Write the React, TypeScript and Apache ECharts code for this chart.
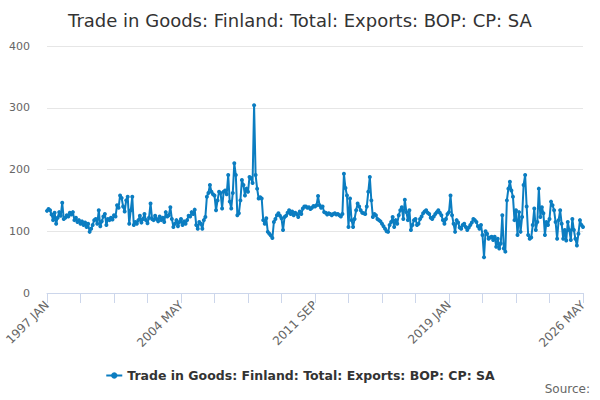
import { useEffect, useRef } from 'react';
import * as echarts from 'echarts';

const MONTHS = ['JAN', 'FEB', 'MAR', 'APR', 'MAY', 'JUN', 'JUL', 'AUG', 'SEP', 'OCT', 'NOV', 'DEC'];
const FIRST_YEAR = 1997;
const POINT_COUNT = 353; // 1997 JAN .. 2026 MAY

// monthly values, grouped by period
const values1997to2003 = [
  133, 136, 134, 127, 118, 130, 112, 122, 131, 125, 146, 120,
  122, 126, 124, 130, 127, 131, 118, 122, 115, 118, 112, 116,
  110, 114, 107, 112, 99, 104, 110, 118, 120, 112, 134, 108,
  116, 124, 128, 110, 120, 118, 122, 119, 126, 124, 142, 138,
  158, 154, 140, 132, 150, 156, 112, 134, 156, 110, 115, 112,
  118, 125, 114, 120, 128, 118, 113, 122, 145, 120, 118, 125,
  120, 116, 124, 118, 122, 115, 131, 124, 126, 139, 120, 107,
];
const values2004to2010 = [
  112, 118, 108, 115, 120, 110, 116, 112, 118, 125, 124, 131,
  128, 135, 110, 104, 115, 112, 104, 118, 123, 156, 162, 175,
  164, 160, 158, 134, 150, 164, 162, 137, 164, 166, 160, 191,
  148, 137, 162, 210, 191, 126, 129, 150, 183, 175, 158, 169,
  164, 188, 186, 178, 304, 191, 169, 153, 155, 153, 118, 112,
  121, 99, 96, 93, 89, 115, 120, 126, 129, 125, 121, 102,
  123, 125, 130, 134, 128, 132, 126, 130, 128, 123, 132, 128,
];
const values2011to2017 = [
  137, 140, 140, 138, 139, 136, 138, 141, 140, 142, 157, 142,
  138, 140, 131, 130, 127, 129, 128, 126, 128, 129, 127, 128,
  126, 124, 128, 193, 170, 158, 107, 153, 118, 107, 120, 134,
  145, 140, 134, 130, 129, 128, 140, 164, 188, 150, 123, 128,
  126, 120, 118, 116, 112, 108, 104, 100, 99, 110, 115, 123,
  107, 118, 112, 126, 134, 139, 120, 151, 131, 118, 134, 102,
  110, 118, 120, 110, 112, 120, 124, 129, 132, 134, 130, 128,
];
const values2018to2026 = [
  122, 120, 124, 128, 131, 134, 130, 126, 118, 112, 120, 128,
  131, 158, 126, 112, 99, 118, 114, 106, 104, 110, 112, 107,
  102, 106, 110, 114, 120, 118, 115, 108, 104, 110, 94, 58,
  100, 96, 88, 90, 91, 86, 91, 75, 88, 72, 80, 126,
  72, 67, 150, 169, 180, 166, 156, 118, 134, 94, 131, 99,
  123, 175, 191, 140, 94, 88, 90, 110, 137, 102, 115, 169,
  123, 139, 129, 94, 115, 110, 120, 148, 142, 134, 115, 88,
  118, 134, 112, 88, 102, 85, 115, 102, 86, 120, 102, 88,
  77, 96, 118, 110, 107,
];

const exportsValues = [...values1997to2003, ...values2004to2010, ...values2011to2017, ...values2018to2026];

const categories: string[] = [];
for (let i = 0; i < POINT_COUNT; i++) {
  categories.push(`${FIRST_YEAR + Math.floor(i / 12)} ${MONTHS[i % 12]}`);
}

const SERIES_NAME = 'Trade in Goods: Finland: Total: Exports: BOP: CP: SA';
const FONT = "'DejaVu Sans', sans-serif";
const LINE_COLOR = '#0b7dc1';

export default function App() {
  const ref = useRef<HTMLDivElement>(null);

  useEffect(() => {
    document.body.style.margin = '0';
    if (!ref.current) return;
    const chart = echarts.init(ref.current, null, { renderer: 'svg' });
    chart.setOption({
      animation: false,
      backgroundColor: '#fff',
      textStyle: { fontFamily: FONT },
      title: {
        text: SERIES_NAME,
        left: 'center',
        top: 6,
        textStyle: { fontSize: 18, fontWeight: 'normal', color: '#333', fontFamily: FONT },
      },
      grid: { left: 47, right: 17, top: 46, bottom: 107 },
      xAxis: {
        type: 'category',
        data: categories,
        boundaryGap: false,
        axisLine: { lineStyle: { color: '#ccd6eb' } },
        axisTick: { show: true, interval: 21, length: 10, lineStyle: { color: '#ccd6eb' } },
        axisLabel: { interval: 87, rotate: 45, color: '#666', fontSize: 12, margin: 10 },
        splitLine: { show: false },
      },
      yAxis: {
        type: 'value',
        min: 0,
        max: 400,
        interval: 100,
        axisLine: { show: false },
        axisTick: { show: false },
        axisLabel: { color: '#666', fontSize: 11, margin: 17 },
        splitLine: { lineStyle: { color: '#e6e6e6' } },
      },
      legend: {
        top: 364,
        left: 'center',
        itemWidth: 16,
        itemHeight: 8,
        itemGap: 8,
        textStyle: { fontSize: 12.5, fontWeight: 'bold', color: '#333' },
        data: [SERIES_NAME],
      },
      graphic: [
        {
          type: 'text',
          right: 10,
          top: 383,
          style: { text: 'Source:', fill: '#666', font: `12px ${FONT}` },
        },
      ],
      series: [
        {
          type: 'line',
          name: SERIES_NAME,
          data: exportsValues,
          symbol: 'circle',
          symbolSize: 4,
          showAllSymbol: true,
          lineStyle: { color: LINE_COLOR, width: 2 },
          itemStyle: { color: LINE_COLOR },
        },
      ],
    });
    return () => chart.dispose();
  }, []);

  return <div ref={ref} style={{ width: 600, height: 400 }} />;
}
